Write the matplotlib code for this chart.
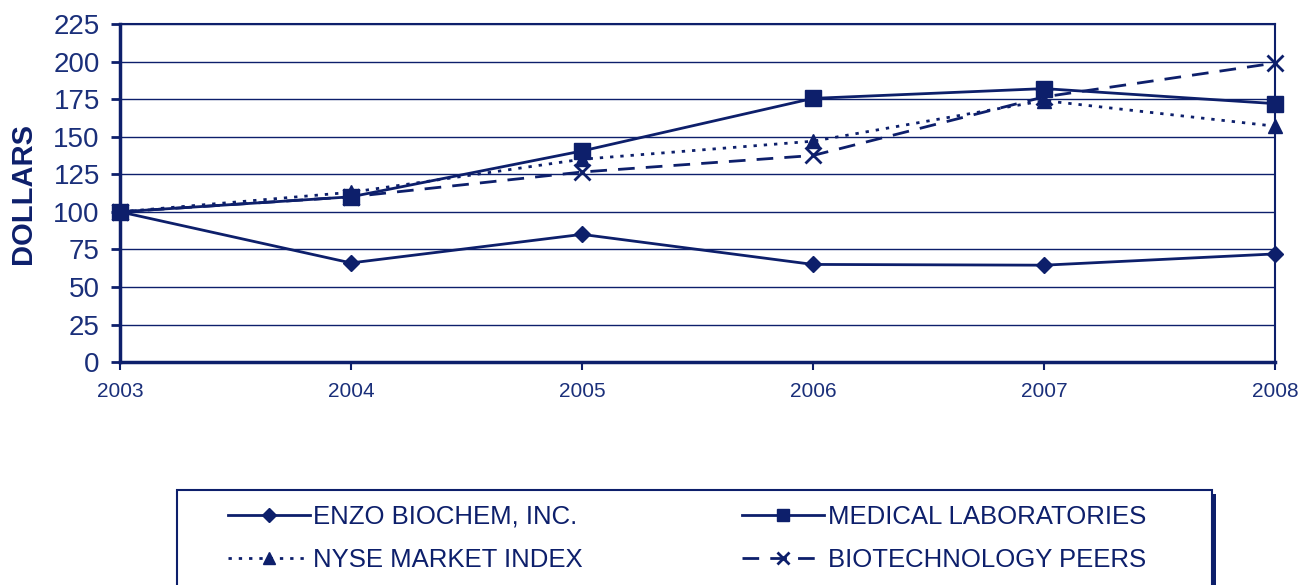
import matplotlib.pyplot as plt
from matplotlib.patches import Rectangle

plt.rcParams['font.family'] = ['Liberation Sans', 'DejaVu Sans']

years = [2003, 2004, 2005, 2006, 2007, 2008]
enzo = [100, 66, 85, 65, 64.5, 72]
medical = [100, 110, 140.5, 175.5, 182, 172]
nyse = [100, 113, 135, 147, 174, 157]
biotech = [100, 110, 126.5, 137.5, 176.5, 199]
y_ticks = [0, 25, 50, 75, 100, 125, 150, 175, 200, 225]

navy = '#0d1f6b'

fig = plt.figure(figsize=(13, 5.85), dpi=100)
ax = fig.add_axes([0.0923, 0.381, 0.8885, 0.578])

l1, = ax.plot(years, enzo, color=navy, lw=2, marker='D', ms=8, clip_on=False,
              label='ENZO BIOCHEM, INC.')
l2, = ax.plot(years, medical, color=navy, lw=2, marker='s', ms=11, clip_on=False,
              label='MEDICAL LABORATORIES')
l3, = ax.plot(years, nyse, color=navy, lw=2, ls=(0, (1.2, 2.5)), marker='^', ms=10,
              clip_on=False, label='NYSE MARKET INDEX')
l4, = ax.plot(years, biotech, color=navy, lw=2, ls=(0, (6, 4)), marker='x', ms=11,
              mew=2, clip_on=False, label='BIOTECHNOLOGY PEERS')

ax.set_xlim(2003, 2008)
ax.set_ylim(0, 225)
ax.set_xticks(years)
ax.set_yticks(y_ticks)
ax.yaxis.grid(True, color=navy, lw=1)
ax.set_axisbelow(True)
ax.tick_params(axis='y', labelsize=20, colors=navy, labelcolor='#1a2f7a', length=6.5, width=2, pad=8)
ax.tick_params(axis='x', labelsize=15, colors=navy, labelcolor='#1a2f7a', length=6, width=1.5, pad=8)
for s in ['left', 'bottom']:
    ax.spines[s].set_linewidth(2.5)
    ax.spines[s].set_color(navy)
for s in ['top', 'right']:
    ax.spines[s].set_linewidth(1.5)
    ax.spines[s].set_color(navy)
ax.set_ylabel('DOLLARS', fontsize=21, fontweight='bold', color=navy, labelpad=12)

# legend box with solid shadow
fig.patches.append(Rectangle((0.139, -0.02), 0.796, 0.175, transform=fig.transFigure,
                             facecolor=navy, edgecolor=navy, lw=0, zorder=1))
fig.patches.append(Rectangle((0.136, -0.01), 0.796, 0.1724, transform=fig.transFigure,
                             facecolor='white', edgecolor=navy, lw=1.5, zorder=2))

leg = fig.legend(handles=[l1, l3, l2, l4], ncol=2, loc='upper left',
                 bbox_to_anchor=(0.1754, 0.137), fontsize=18.5, frameon=False,
                 borderaxespad=0, borderpad=0, handlelength=3.2, handletextpad=0.12,
                 columnspacing=6.2, labelspacing=0.75, markerscale=0.85)
leg.set_zorder(3)
for t in leg.get_texts():
    t.set_color(navy)

fig.savefig('out.png', dpi=100)
